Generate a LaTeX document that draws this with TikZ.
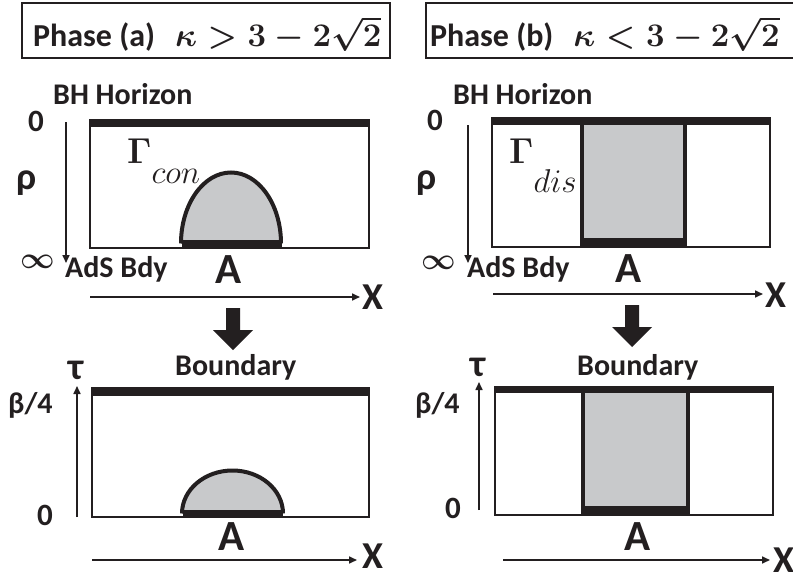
\RequirePackage{fix-cm}
\documentclass[tikz,border=0pt]{standalone}
\usepackage{amsmath,amssymb,bm}
\usepackage{fontspec}
\newfontfamily\calib{Carlito}
\usetikzlibrary{arrows.meta}
\definecolor{ink}{RGB}{35,31,32}
\definecolor{greyfill}{RGB}{200,201,203}
\begin{document}
\begin{tikzpicture}[x=1pt,y=-1pt,
  lbl/.style={inner sep=0pt, text=ink, font=\calib\bfseries\fontsize{30}{31}\selectfont},
  biglbl/.style={inner sep=0pt, text=ink, font=\calib\bfseries\fontsize{43}{45}\selectfont},
  axislbl/.style={inner sep=0pt, text=ink, font=\calib\bfseries\fontsize{38}{40}\selectfont},
  greek/.style={inner sep=0pt, text=ink, font=\calib\bfseries\fontsize{38}{40}\selectfont},
  numlbl/.style={inner sep=0pt, text=ink, font=\calib\bfseries\fontsize{31}{32}\selectfont},
  titletxt/.style={inner sep=0pt, text=ink, font=\calib\bfseries\fontsize{32}{33}\selectfont},
  gamma/.style={inner sep=0pt, text=ink, font=\fontsize{36}{38}\selectfont},
  frame/.style={draw=ink, line width=1.8pt},
  titlebox/.style={draw=ink, line width=1.4pt},
  horizon/.style={draw=ink, line width=7.5pt},
  baseline/.style={draw=ink, line width=8pt},
  curve/.style={draw=ink, line width=4pt, fill=greyfill},
  wall/.style={draw=ink, line width=4pt},
  axis/.style={draw=ink, line width=1.6pt, -{Triangle[length=8pt,width=7pt]}}]
\useasboundingbox (0,0) rectangle (793,578);
\clip (0,0) rectangle (793,578);
\fill[white] (0,0) rectangle (793,578);

% ---------- titles ----------
\draw[titlebox] (22,3) rectangle (390,58);
\node[titletxt, anchor=base west] (tA) at (33,47) {Phase (a)\hspace{20pt}{\fontsize{33}{35}\selectfont\boldmath$\kappa>3-2\sqrt{2}$}};
\draw[titlebox] (426,3) rectangle (810,58);
\node[titletxt, anchor=base west] (tB) at (430,47) {Phase (b)\hspace{20pt}{\fontsize{33}{35}\selectfont\boldmath$\kappa<3-2\sqrt{2}$}};

% ---------- top left ----------
\draw[frame] (90,120) rectangle (369,248);
\draw[curve] (181,243.5) arc[start angle=180, end angle=360, x radius=50, y radius=71];
\draw[baseline] (182,243.5) -- (282,243.5);
\draw[horizon] (89,123.5) -- (370,123.5);
\node[lbl, anchor=base west] (bhA) at (53,105) {BH Horizon};
\node[numlbl] (zA) at (36,121) {0};
\node[greek] (rhoA) at (27,183) {ρ};
\coordinate (rsA) at (66,122); \coordinate (reA) at (66,263);
\draw[axis] (rsA) -- (reA);
\node[gamma, anchor=base west] (gcA) at (127,163) {{\boldmath$\Gamma$}\raisebox{-20pt}{\fontsize{33}{35}\selectfont$con$}};
\node[inner sep=0pt, text=ink, font=\fontsize{30}{30}\selectfont] (infA) at (38,262) {$\boldsymbol{\infty}$};
\node[lbl, anchor=base west] (adsA) at (65,277) {AdS Bdy};
\node[biglbl, anchor=base] (aA) at (229,283) {A};
\coordinate (xsA) at (90,297); \coordinate (xeA) at (360,297);
\draw[axis] (xsA) -- (xeA);
\node[axislbl, anchor=west] (xA) at (362,297) {X};

\fill[ink] (226,308) -- (240,308) -- (240,330) -- (253,330) -- (233,350) -- (213,330) -- (226,330) -- cycle;

% ---------- bottom left ----------
\draw[frame] (92,388) rectangle (369,517);
\draw[curve] (182,513.5) arc[start angle=180, end angle=360, x radius=50.5, y radius=43];
\draw[baseline] (183,513.5) -- (283,513.5);
\draw[horizon] (91,392) -- (370,392);
\node[lbl, anchor=base west] (bdA) at (175,375) {Boundary};
\node[greek] (tauA) at (76,370) {τ};
\node[lbl, anchor=west] (betaA) at (8,405) {β/4};
\node[numlbl] (z2A) at (45,515) {0};
\coordinate (tsA) at (77,517); \coordinate (teA) at (77,386);
\draw[axis] (tsA) -- (teA);
\node[biglbl, anchor=base] (a2A) at (232,550) {A};
\coordinate (xs2A) at (92,560); \coordinate (xe2A) at (357,560);
\draw[axis] (xs2A) -- (xe2A);
\node[axislbl, anchor=west] (x2A) at (362,556) {X};

% ---------- top right ----------
\draw[frame] (492,120) rectangle (770,247);
\fill[greyfill] (582,121) rectangle (685,243);
\draw[wall] (582,121) -- (582,246);
\draw[wall] (685,121) -- (685,246);
\draw[baseline] (580,241.5) -- (687,241.5);
\draw[horizon] (491,121) -- (771,121);
\node[lbl, anchor=base west] (bhB) at (453,105) {BH Horizon};
\node[numlbl] (zB) at (435,120) {0};
\node[greek] (rhoB) at (427,183) {ρ};
\coordinate (rsB) at (468,125); \coordinate (reB) at (468,263);
\draw[axis] (rsB) -- (reB);
\node[gamma, anchor=base west] (gdB) at (509,163) {{\boldmath$\Gamma$}\raisebox{-29pt}{\fontsize{33}{35}\selectfont$dis$}};
\node[inner sep=0pt, text=ink, font=\fontsize{30}{30}\selectfont] (infB) at (439,263) {$\boldsymbol{\infty}$};
\node[lbl, anchor=base west] (adsB) at (467,277) {AdS Bdy};
\node[biglbl, anchor=base] (aB) at (629,282) {A};
\coordinate (xsB) at (493,294); \coordinate (xeB) at (763,294);
\draw[axis] (xsB) -- (xeB);
\node[axislbl, anchor=west] (xB) at (765,295) {X};

\fill[ink] (625,305) -- (639,305) -- (639,327) -- (652,327) -- (632,347) -- (612,327) -- (625,327) -- cycle;

% ---------- bottom right ----------
\draw[frame] (495,387) rectangle (773,515);
\fill[greyfill] (583,389) rectangle (688,511);
\draw[wall] (583,389) -- (583,514);
\draw[wall] (688,389) -- (688,514);
\draw[baseline] (581,509.5) -- (690,509.5);
\draw[horizon] (494,389.5) -- (774,389.5);
\node[lbl, anchor=base west] (bdB) at (577,375) {Boundary};
\node[greek] (tauB) at (478,367) {τ};
\node[lbl, anchor=west] (betaB) at (415,405) {β/4};
\node[numlbl] (z2B) at (453,508) {0};
\coordinate (tsB) at (479,510); \coordinate (teB) at (479,382);
\draw[axis] (tsB) -- (teB);
\node[biglbl, anchor=base] (a2B) at (638,550) {A};
\coordinate (xs2B) at (503,560); \coordinate (xe2B) at (770,560);
\draw[axis] (xs2B) -- (xe2B);
\node[axislbl, anchor=west] (x2B) at (773,560) {X};
\end{tikzpicture}
\end{document}
